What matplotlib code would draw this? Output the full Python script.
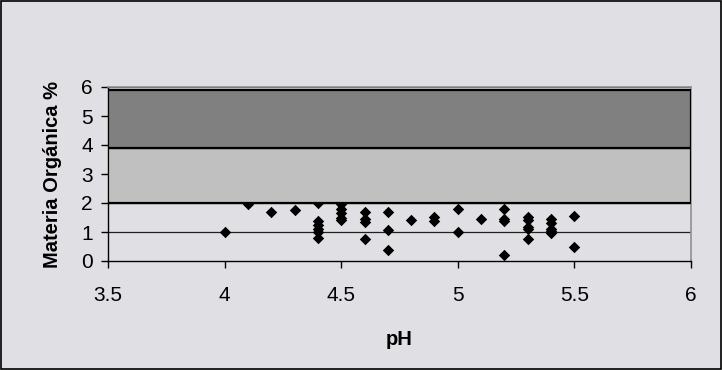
import matplotlib.pyplot as plt
from matplotlib.patches import Rectangle

# datos: pH y materia organica (%)
ph = [4.0, 4.1, 4.2, 4.3,
      4.4, 4.4, 4.4, 4.4, 4.4, 4.4,
      4.5, 4.5, 4.5, 4.5, 4.5,
      4.6, 4.6, 4.6, 4.6,
      4.7, 4.7, 4.7,
      4.8,
      4.9, 4.9,
      5.0, 5.0,
      5.1,
      5.2, 5.2, 5.2, 5.2,
      5.3, 5.3, 5.3, 5.3, 5.3,
      5.4, 5.4, 5.4, 5.4, 5.4,
      5.5, 5.5]
mo = [1.0, 1.97, 1.7, 1.76,
      2.0, 1.38, 1.25, 1.1, 1.0, 0.78,
      1.95, 1.8, 1.65, 1.5, 1.4,
      1.7, 1.45, 1.35, 0.76,
      1.7, 1.07, 0.38,
      1.4,
      1.52, 1.38,
      1.78, 1.0,
      1.45,
      1.78, 1.45, 1.38, 0.2,
      1.52, 1.42, 1.18, 1.1, 0.77,
      1.45, 1.32, 1.12, 1.02, 0.95,
      1.56, 0.49]

# franjas de referencia (limite inferior, limite superior, color)
franjas_lim = [(2.0, 3.9), (3.9, 5.9)]
franjas_col = ["#c0c0c0", "#808080"]

x_ticks = [3.5, 4, 4.5, 5, 5.5, 6]
x_labels = ["3.5", "4", "4.5", "5", "5.5", "6"]
y_ticks = [0, 1, 2, 3, 4, 5, 6]

fondo = "#e0dfe3"
plt.rcParams["font.family"] = ["Liberation Sans", "DejaVu Sans"]

fig = plt.figure(figsize=(7.22, 3.70), dpi=100, facecolor=fondo)
ax = fig.add_axes([108 / 722, 1 - 261 / 370, (691 - 108) / 722, (261 - 87) / 370])
ax.set_facecolor(fondo)

# borde exterior
fig.patches.append(Rectangle((0.001, 0.002), 0.997, 0.995, transform=fig.transFigure,
                             fill=False, edgecolor="black", linewidth=1.2))

# lineas de division
for y in y_ticks[1:]:
    ax.axhline(y, color="#202020", linewidth=0.9, zorder=1)

# puntos (quedan debajo de las franjas)
ax.scatter(ph, mo, marker="D", s=34, color="black", linewidth=0, zorder=2)

# franjas
for (lo, hi), c in zip(franjas_lim, franjas_col):
    ax.add_patch(Rectangle((3.5, lo), 2.5, hi - lo, facecolor=c,
                           edgecolor="black", linewidth=1.6, zorder=3))

ax.set_xlim(3.5, 6)
ax.set_ylim(0, 6)
ax.set_xticks(x_ticks)
ax.set_xticklabels(x_labels)
ax.set_yticks(y_ticks)

for lado in ["top", "right"]:
    ax.spines[lado].set_color("#909090")
    ax.spines[lado].set_linewidth(1.2)
for lado in ["left", "bottom"]:
    ax.spines[lado].set_color("black")
    ax.spines[lado].set_linewidth(1.0)

ax.tick_params(axis="both", direction="out", length=5, width=1, color="black",
               labelsize=15)
ax.tick_params(axis="x", pad=13)
ax.tick_params(axis="y", pad=6)

ax.set_xlabel("pH", fontsize=14.5, fontweight="bold", labelpad=18)
ax.set_ylabel("Materia Orgánica %", fontsize=14.5, fontweight="bold", labelpad=14)

fig.savefig("out.png", dpi=100, facecolor=fondo)
